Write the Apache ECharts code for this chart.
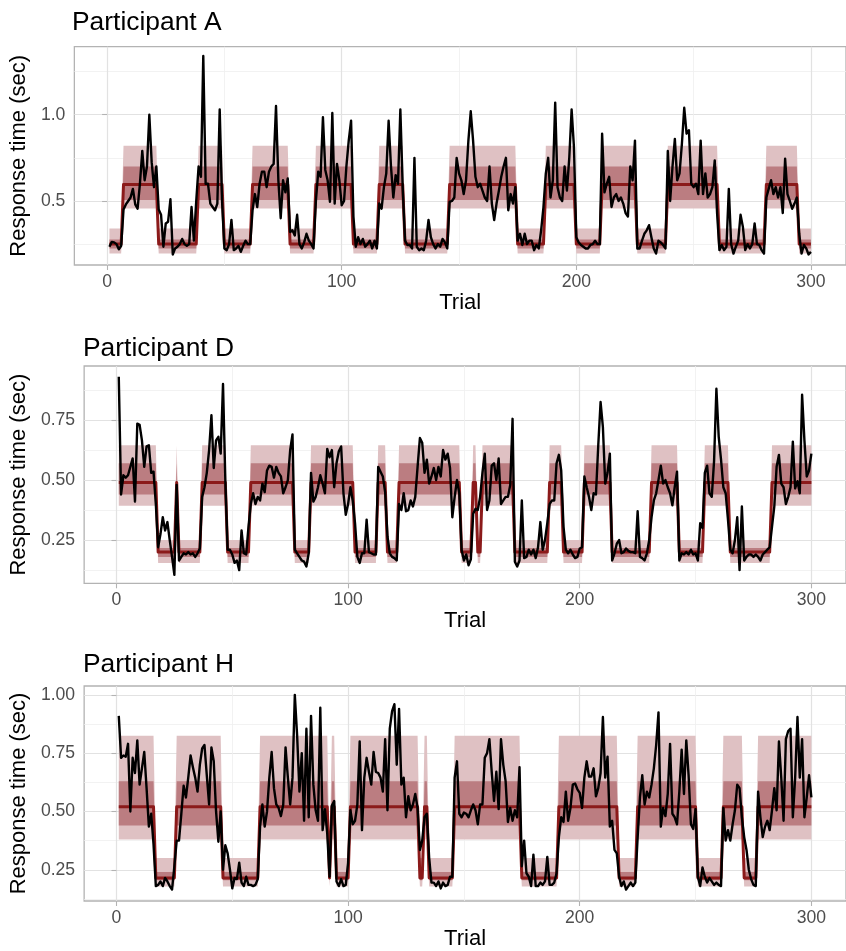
<!DOCTYPE html>
<html><head><meta charset="utf-8">
<script src="https://cdn.jsdelivr.net/npm/echarts@6/dist/echarts.min.js"></script>
<style>html,body{margin:0;padding:0;background:#fff}#c{width:846px;height:951px}</style>
</head><body><div id="c"></div>
<script>
// ---------- DATA ----------
// Observed response times (sec), trials 1..300
const rtA = [
0.235,0.263,0.26,0.25,0.22,0.24,0.45,0.48,0.50,0.52,
0.57,0.48,0.455,0.60,0.79,0.62,0.70,1.00,0.725,0.58,
0.70,0.45,0.42,0.235,0.37,0.38,0.51,0.19,0.225,0.235,
0.25,0.28,0.25,0.24,0.25,0.465,0.27,0.50,0.70,0.64,
1.34,0.60,0.60,0.485,0.465,0.446,0.485,1.03,0.50,0.225,
0.215,0.25,0.39,0.215,0.225,0.24,0.205,0.24,0.27,0.25,
0.25,0.446,0.54,0.465,0.60,0.67,0.67,0.58,0.67,0.70,
0.715,1.05,0.62,0.40,0.62,0.55,0.63,0.32,0.33,0.30,
0.42,0.25,0.225,0.26,0.31,0.27,0.25,0.225,0.50,0.67,
0.64,0.985,0.68,0.62,0.495,1.01,0.485,0.715,0.62,0.475,
0.50,0.70,0.85,0.965,0.41,0.235,0.29,0.25,0.28,0.235,
0.25,0.27,0.225,0.27,0.225,0.485,0.455,0.58,0.66,0.965,
0.70,0.52,0.65,0.60,1.03,0.58,0.27,0.245,0.245,0.225,
0.75,0.235,0.215,0.225,0.215,0.27,0.39,0.29,0.25,0.225,
0.25,0.235,0.28,0.26,0.225,0.495,0.50,0.52,0.75,0.66,
0.62,0.54,0.62,0.85,1.02,0.85,0.64,0.58,0.60,0.56,
0.52,0.50,0.70,0.485,0.39,0.485,0.56,0.64,0.70,0.75,
0.446,0.54,0.485,0.58,0.27,0.31,0.245,0.31,0.25,0.27,
0.27,0.215,0.245,0.225,0.33,0.465,0.66,0.75,0.52,0.62,
1.07,0.58,0.52,0.50,0.70,0.56,0.75,1.03,0.81,0.29,
0.26,0.245,0.235,0.225,0.225,0.245,0.25,0.27,0.25,0.25,
0.89,0.55,0.60,0.64,0.465,0.52,0.54,0.50,0.52,0.485,
0.43,0.41,0.70,0.62,0.85,0.225,0.225,0.27,0.31,0.33,
0.36,0.29,0.225,0.195,0.27,0.26,0.245,0.225,0.79,0.50,
0.70,0.86,0.62,0.66,0.83,1.04,0.89,0.91,0.60,0.58,
0.60,0.54,0.85,0.54,0.66,0.52,0.54,0.58,0.735,0.43,
0.215,0.245,0.215,0.235,0.57,0.25,0.195,0.235,0.27,0.42,
0.35,0.215,0.25,0.225,0.25,0.37,0.25,0.245,0.215,0.195,
0.52,0.57,0.62,0.54,0.58,0.52,0.58,0.43,0.745,0.54,
0.50,0.455,0.485,0.52,0.31,0.195,0.245,0.225,0.19,0.205];
const rtD = [
0.93,0.44,0.52,0.51,0.52,0.555,0.59,0.41,0.735,0.73,
0.665,0.555,0.64,0.645,0.53,0.535,0.40,0.22,0.275,0.345,
0.29,0.325,0.25,0.18,0.105,0.48,0.165,0.18,0.195,0.19,
0.20,0.19,0.195,0.18,0.195,0.215,0.43,0.47,0.53,0.625,
0.77,0.55,0.665,0.68,0.61,0.90,0.50,0.21,0.21,0.19,
0.155,0.165,0.125,0.29,0.195,0.19,0.305,0.40,0.445,0.40,
0.43,0.415,0.485,0.45,0.54,0.56,0.555,0.51,0.555,0.53,
0.515,0.445,0.47,0.50,0.625,0.69,0.21,0.195,0.18,0.165,
0.16,0.14,0.195,0.53,0.41,0.43,0.47,0.52,0.485,0.445,
0.63,0.595,0.625,0.47,0.57,0.62,0.64,0.445,0.355,0.40,
0.47,0.415,0.32,0.18,0.155,0.195,0.195,0.335,0.20,0.195,
0.19,0.19,0.555,0.535,0.515,0.45,0.265,0.195,0.18,0.175,
0.165,0.40,0.375,0.445,0.37,0.375,0.415,0.39,0.43,0.555,
0.675,0.655,0.53,0.585,0.485,0.515,0.55,0.50,0.555,0.515,
0.625,0.585,0.61,0.55,0.345,0.43,0.50,0.445,0.21,0.165,
0.19,0.145,0.17,0.36,0.38,0.375,0.43,0.53,0.61,0.375,
0.415,0.56,0.57,0.50,0.59,0.40,0.415,0.43,0.43,0.48,
0.755,0.16,0.14,0.165,0.415,0.175,0.18,0.21,0.19,0.21,
0.175,0.22,0.325,0.21,0.25,0.32,0.40,0.415,0.415,0.57,
0.605,0.54,0.305,0.21,0.195,0.21,0.19,0.175,0.18,0.215,
0.22,0.515,0.47,0.43,0.375,0.445,0.44,0.645,0.825,0.72,
0.485,0.53,0.61,0.165,0.195,0.235,0.25,0.195,0.20,0.215,
0.205,0.20,0.20,0.195,0.37,0.18,0.175,0.165,0.195,0.25,
0.345,0.415,0.445,0.50,0.56,0.485,0.50,0.47,0.445,0.395,
0.47,0.535,0.165,0.195,0.19,0.20,0.19,0.21,0.19,0.195,
0.165,0.32,0.30,0.53,0.56,0.445,0.43,0.58,0.88,0.68,
0.585,0.47,0.445,0.335,0.21,0.195,0.25,0.345,0.125,0.39,
0.165,0.18,0.19,0.19,0.18,0.19,0.18,0.165,0.19,0.20,
0.21,0.22,0.305,0.39,0.555,0.605,0.485,0.47,0.40,0.43,
0.47,0.66,0.465,0.495,0.445,0.855,0.665,0.515,0.54,0.61];
const rtH = [
0.91,0.73,0.74,0.735,0.79,0.50,0.73,0.665,0.805,0.615,
0.685,0.755,0.60,0.435,0.49,0.36,0.18,0.185,0.20,0.18,
0.215,0.20,0.18,0.165,0.265,0.375,0.375,0.49,0.61,0.56,
0.645,0.74,0.69,0.645,0.585,0.70,0.77,0.785,0.655,0.53,
0.775,0.715,0.50,0.37,0.50,0.25,0.355,0.32,0.25,0.17,
0.215,0.21,0.28,0.195,0.18,0.22,0.185,0.185,0.18,0.185,
0.21,0.435,0.53,0.435,0.50,0.645,0.755,0.60,0.53,0.515,
0.48,0.53,0.775,0.645,0.53,0.645,1.00,0.825,0.585,0.75,
0.46,0.855,0.475,0.91,0.615,0.505,0.46,0.945,0.42,0.51,
0.405,0.22,0.525,0.545,0.20,0.18,0.21,0.18,0.185,0.28,
0.505,0.445,0.46,0.53,0.80,0.42,0.645,0.73,0.67,0.615,
0.755,0.67,0.665,0.645,0.585,0.81,0.505,0.855,0.93,0.96,
0.70,0.94,0.615,0.645,0.475,0.565,0.505,0.53,0.575,0.515,
0.335,0.375,0.475,0.49,0.30,0.195,0.195,0.18,0.20,0.17,
0.195,0.18,0.185,0.22,0.22,0.645,0.715,0.49,0.475,0.495,
0.49,0.475,0.505,0.53,0.505,0.445,0.53,0.53,0.73,0.75,
0.81,0.67,0.545,0.67,0.51,0.81,0.70,0.63,0.455,0.515,
0.46,0.505,0.475,0.69,0.265,0.375,0.235,0.22,0.18,0.315,
0.18,0.18,0.195,0.185,0.20,0.305,0.185,0.185,0.195,0.235,
0.39,0.475,0.455,0.585,0.46,0.515,0.615,0.62,0.595,0.58,
0.515,0.645,0.715,0.65,0.65,0.685,0.565,0.60,0.665,0.905,
0.645,0.735,0.435,0.46,0.335,0.32,0.22,0.18,0.20,0.165,
0.18,0.195,0.18,0.195,0.39,0.56,0.655,0.53,0.585,0.56,
0.615,0.685,0.785,0.925,0.435,0.515,0.48,0.575,0.79,0.49,
0.475,0.445,0.585,0.765,0.575,0.805,0.655,0.445,0.425,0.51,
0.22,0.18,0.26,0.22,0.195,0.215,0.20,0.185,0.195,0.185,
0.18,0.515,0.375,0.42,0.375,0.445,0.505,0.615,0.60,0.475,
0.39,0.335,0.25,0.21,0.185,0.18,0.585,0.475,0.39,0.435,
0.46,0.42,0.505,0.60,0.505,0.80,0.645,0.46,0.81,0.845,
0.855,0.475,0.645,0.905,0.645,0.81,0.475,0.56,0.655,0.56];

// Model state blocks: [firstTrial, lastTrial, state]  (0 = fast state, 1 = slow state)
const blocksA = [[1,6,0],[7,21,1],[22,38,0],[39,49,1],[50,61,0],[62,77,1],[78,88,0],[89,104,1],[105,115,0],[116,126,1],[127,145,0],[146,174,1],[175,186,0],[187,199,1],[200,210,0],[211,225,1],[226,238,0],[239,260,1],[261,280,0],[281,294,1],[295,300,0]];
const blocksD = [[1,17,1],[18,25,0],[26,26,1],[27,36,0],[37,47,1],[48,57,0],[58,76,1],[77,83,0],[84,102,1],[103,112,0],[113,116,1],[117,121,0],[122,148,1],[149,153,0],[154,155,1],[156,157,0],[158,171,1],[172,186,0],[187,192,1],[193,201,0],[202,213,1],[214,230,0],[231,242,1],[243,253,0],[254,264,1],[265,282,0],[283,300,1]];
const blocksH = [[1,16,1],[17,25,0],[26,45,1],[46,61,0],[62,91,1],[92,92,0],[93,94,1],[95,100,0],[101,130,1],[131,132,0],[133,134,1],[135,145,0],[146,174,1],[175,190,0],[191,216,1],[217,224,0],[225,250,1],[251,261,0],[262,270,1],[271,276,0],[277,300,1]];

// Per-state model summaries: mean, 50% interval, 95% interval  ([fast, slow])
const meanA = [0.25, 0.595];
const in50A = [[0.225, 0.277], [0.505, 0.70]];
const out95A = [[0.196, 0.34], [0.456, 0.82]];
const meanD = [0.20, 0.49];
const in50D = [[0.18, 0.217], [0.44, 0.57]];
const out95D = [[0.155, 0.25], [0.393, 0.645]];
const meanH = [0.215, 0.52];
const in50H = [[0.205, 0.24], [0.44, 0.63]];
const out95H = [[0.178, 0.30], [0.38, 0.825]];

// Tick values
const xTicks = [0, 100, 200, 300];
const xMinor = [50, 150, 250];
const yTicksA = [0.5, 1.0], yMinorA = [0.25, 0.75, 1.25];
const yTicksD = [0.25, 0.5, 0.75], yMinorD = [0.125, 0.375, 0.625, 0.875];
const yTicksH = [0.25, 0.5, 0.75, 1.0], yMinorH = [0.125, 0.375, 0.625, 0.875];
const titles = ['Participant A', 'Participant D', 'Participant H'];

// ---------- LAYOUT / STYLE ----------
const FONT = '"Liberation Sans", Arial, Helvetica, sans-serif';
const L = [
  {left: 72.9, top: 46.7, width: 773.6, height: 218.3, yMin: 0.129, yMax: 1.394, xMin: -13.95, xMax: 314.95, tLeft: 72, tTop: 10, gapY: 35},
  {left: 82.6, top: 366, width: 764.1, height: 217.3, yMin: 0.07, yMax: 0.975, xMin: -13.95, xMax: 314.95, tLeft: 83, tTop: 336, gapY: 44},
  {left: 82.6, top: 686, width: 764.1, height: 219, yMin: 0.116, yMax: 1.038, xMin: -13.95, xMax: 314.95, tLeft: 83, tTop: 652, gapY: 44}
];
const COL_OUT = '#dfc1c3', COL_IN = '#bb7d81', COL_MEAN = '#8b1a1a', COL_RT = '#000000';

const panels = [
  {rt: rtA, blocks: blocksA, mean: meanA, in50: in50A, out95: out95A, yT: yTicksA, yM: yMinorA, dec: 1},
  {rt: rtD, blocks: blocksD, mean: meanD, in50: in50D, out95: out95D, yT: yTicksD, yM: yMinorD, dec: 2},
  {rt: rtH, blocks: blocksH, mean: meanH, in50: in50H, out95: out95H, yT: yTicksH, yM: yMinorH, dec: 2}
];

function stepRows(blocks, f) {
  const out = [];
  blocks.forEach(b => { for (let t = b[0]; t <= b[1]; t++) out.push(f(t, b[2])); });
  return out;
}
function bandSeries(idx, rows, color) {
  return {
    type: 'custom', xAxisIndex: idx * 2, yAxisIndex: idx * 2, silent: true, z: 2,
    data: rows, encode: {x: 0, y: [1, 2]}, clip: true,
    renderItem: function (params, api) {
      if (params.dataIndex !== 0) return null;
      const up = [], dn = [];
      for (let i = 0; i < rows.length; i++) {
        up.push(api.coord([rows[i][0], rows[i][2]]));
        dn.push(api.coord([rows[i][0], rows[i][1]]));
      }
      return {type: 'polygon', shape: {points: up.concat(dn.reverse())}, style: {fill: color}};
    }
  };
}

const grid = [], xAxis = [], yAxis = [], series = [], title = [];
panels.forEach((p, i) => {
  const g = L[i];
  grid.push({left: g.left, top: g.top, width: g.width, height: g.height, show: true,
    borderColor: '#b3b3b3', borderWidth: 1.3, backgroundColor: 'rgba(0,0,0,0)'});
  title.push({text: titles[i], left: g.tLeft, top: g.tTop, padding: 0,
    textStyle: {fontFamily: FONT, fontSize: 26.4, fontWeight: 'normal', color: '#000'}});
  // major x
  xAxis.push({type: 'value', gridIndex: i, min: g.xMin, max: g.xMax, position: 'bottom',
    axisLine: {show: false},
    axisTick: {show: true, customValues: xTicks, length: 5, lineStyle: {color: '#b3b3b3', width: 1.1}},
    axisLabel: {customValues: xTicks, margin: 8, fontSize: 17.6, color: '#4d4d4d', fontFamily: FONT},
    splitLine: {show: true, lineStyle: {color: '#e2e2e2', width: 1.2}},
    name: 'Trial', nameLocation: 'middle', nameGap: 27,
    nameTextStyle: {fontSize: 22, color: '#000', fontFamily: FONT}});
  // minor x
  xAxis.push({type: 'value', gridIndex: i, min: g.xMin, max: g.xMax, position: 'top',
    axisLine: {show: false}, axisTick: {show: false, customValues: xMinor},
    axisLabel: {show: false, customValues: xMinor},
    splitLine: {show: true, lineStyle: {color: '#efefef', width: 0.8}}});
  // major y
  yAxis.push({type: 'value', gridIndex: i, min: g.yMin, max: g.yMax, position: 'left',
    axisLine: {show: false},
    axisTick: {show: true, customValues: p.yT, length: 5, lineStyle: {color: '#b3b3b3', width: 1.1}},
    axisLabel: {customValues: p.yT, margin: 9, fontSize: 17.6, color: '#4d4d4d', fontFamily: FONT,
      formatter: v => Number(v).toFixed(p.dec)},
    splitLine: {show: true, lineStyle: {color: '#e2e2e2', width: 1.2}},
    name: 'Response time (sec)', nameLocation: 'middle', nameRotate: 90, nameGap: g.gapY,
    nameTextStyle: {fontSize: 22, color: '#000', fontFamily: FONT}});
  // minor y
  yAxis.push({type: 'value', gridIndex: i, min: g.yMin, max: g.yMax, position: 'right',
    axisLine: {show: false}, axisTick: {show: false, customValues: p.yM},
    axisLabel: {show: false, customValues: p.yM},
    splitLine: {show: true, lineStyle: {color: '#efefef', width: 0.8}}});

  const outRows = stepRows(p.blocks, (t, s) => [t, p.out95[s][0], p.out95[s][1]]);
  const inRows = stepRows(p.blocks, (t, s) => [t, p.in50[s][0], p.in50[s][1]]);
  const meanRows = stepRows(p.blocks, (t, s) => [t, p.mean[s]]);
  const rtRows = p.rt.map((v, k) => [k + 1, v]);

  series.push(bandSeries(i, outRows, COL_OUT));
  series.push(bandSeries(i, inRows, COL_IN));
  series.push({type: 'line', xAxisIndex: i * 2, yAxisIndex: i * 2, data: meanRows, showSymbol: false,
    silent: true, z: 3, lineStyle: {color: COL_MEAN, width: 3, join: 'round'}});
  series.push({type: 'line', xAxisIndex: i * 2, yAxisIndex: i * 2, data: rtRows, showSymbol: false,
    silent: true, z: 4, lineStyle: {color: COL_RT, width: 2.4, join: 'round'}});
});

const chart = echarts.init(document.getElementById('c'), null, {renderer: 'canvas'});
chart.setOption({animation: false, backgroundColor: '#fff', title, grid, xAxis, yAxis, series});
</script>
</body></html>
